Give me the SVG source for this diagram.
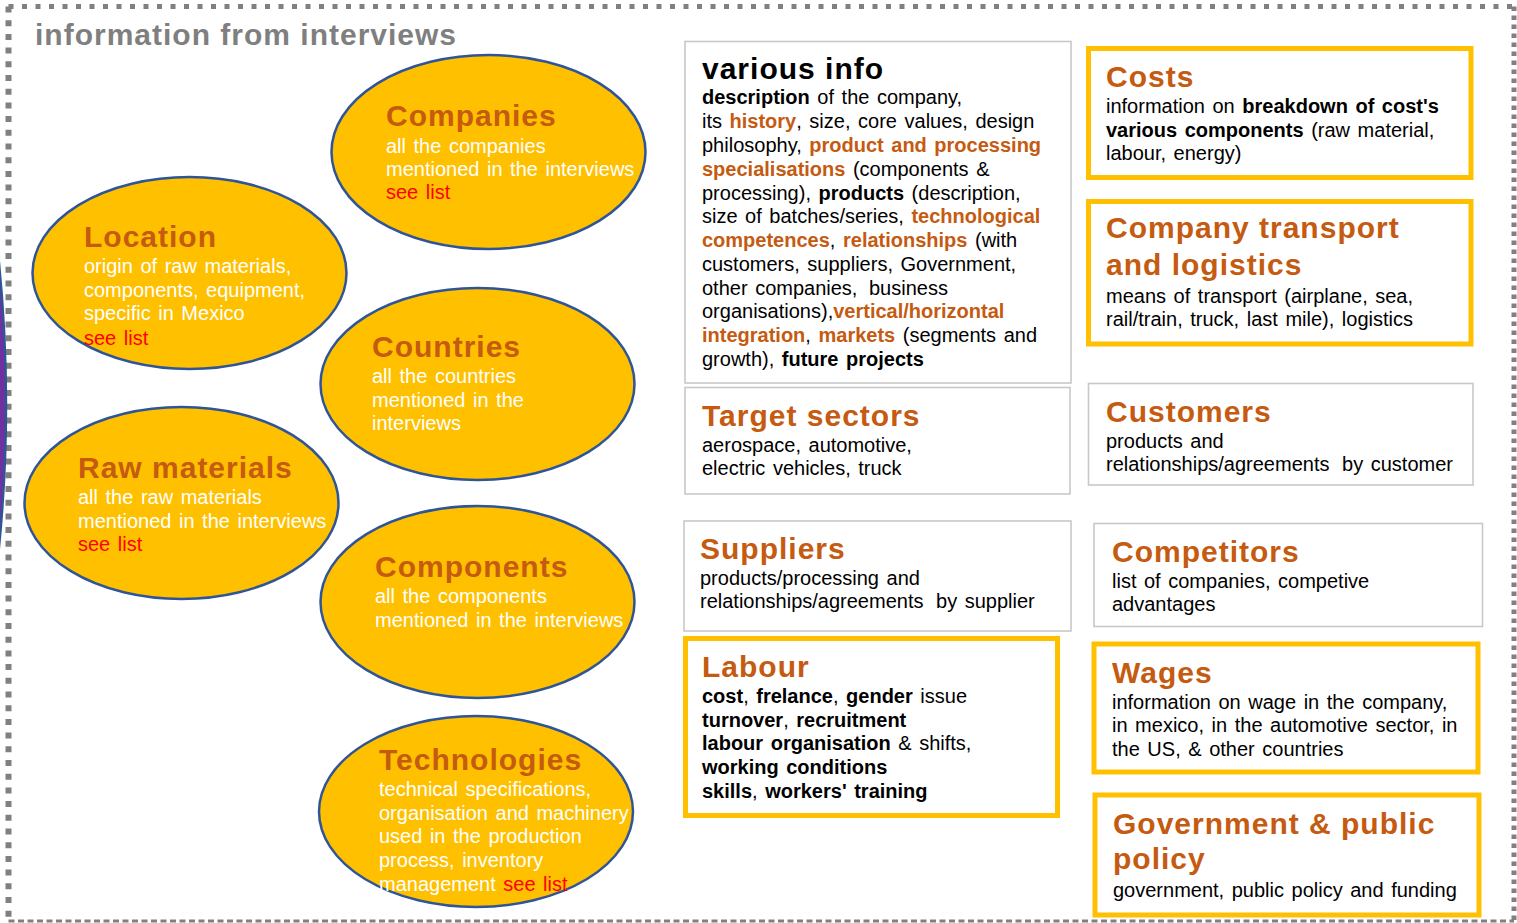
<svg xmlns="http://www.w3.org/2000/svg" width="1517" height="923" viewBox="0 0 1517 923">
  <style>
    .frame { fill: none; stroke: #808080; }
    .oval { fill: #FFC000; stroke: #2F5597; stroke-width: 2.5; }
    .box { fill: #FFFFFF; stroke: #C8C8C8; stroke-width: 1.6; }
    .gbox { fill: #FFFFFF; stroke: #FFC000; stroke-width: 5; }
    text { font-family: "Liberation Sans", Arial, sans-serif; }
    .ttl { font-size: 30px; font-weight: bold; fill: #C55A11; letter-spacing: 1px; }
    .head { font-size: 30px; font-weight: bold; fill: #000000; letter-spacing: 1px; }
    .wt { font-size: 20px; fill: #FFFFFF; word-spacing: 2px; }
    .bt { font-size: 20px; fill: #000000; word-spacing: 2px; }
    .b { font-weight: bold; }
    .o { font-weight: bold; fill: #C55A11; }
    .red { fill: #FF0000; }
  </style>

  <!-- dashed outer frame -->
  <g id="frame">
    <line class="frame" x1="8.5" y1="6.5" x2="1514" y2="6.5" stroke-width="5" stroke-dasharray="5 8.5"/>
    <line class="frame" x1="8.5" y1="6.5" x2="8.5" y2="921" stroke-width="6" stroke-dasharray="6 7.7"/>
    <line class="frame" x1="1514" y1="6.5" x2="1514" y2="921" stroke-width="5" stroke-dasharray="4.5 4.5"/>
    <line class="frame" x1="8.5" y1="921" x2="1514" y2="921" stroke-width="3" stroke-dasharray="6 3.5"/>
  </g>

  <text x="35" y="45" font-size="30" font-weight="bold" fill="#7F7F7F" letter-spacing="1">information from interviews</text>

  <!-- partly hidden shape at the left edge -->
  <path d="M -3 244 Q 15 405 -3 566 Z" fill="#7030A0" stroke="#2F5597" stroke-width="2.5"/>

  <g id="connectors"></g>

  <!-- topic ovals -->
  <g id="companies">
    <ellipse class="oval" cx="488.5" cy="152" rx="157" ry="97"/>
    <text class="ttl" x="386" y="126">Companies</text>
    <text class="wt" x="386" y="153">all the companies</text>
    <text class="wt" x="386" y="176">mentioned in the interviews</text>
    <text class="wt red" x="386" y="199">see list</text>
  </g>

  <g id="location">
    <ellipse class="oval" cx="189.5" cy="273" rx="157" ry="96"/>
    <text class="ttl" x="84" y="247">Location</text>
    <text class="wt" x="84" y="273">origin of raw materials,</text>
    <text class="wt" x="84" y="297">components, equipment,</text>
    <text class="wt" x="84" y="320">specific in Mexico</text>
    <text class="wt red" x="84" y="345">see list</text>
  </g>

  <g id="countries">
    <ellipse class="oval" cx="477.5" cy="384" rx="157" ry="96"/>
    <text class="ttl" x="372" y="357">Countries</text>
    <text class="wt" x="372" y="383">all the countries</text>
    <text class="wt" x="372" y="407">mentioned in the</text>
    <text class="wt" x="372" y="430">interviews</text>
  </g>

  <g id="raw-materials">
    <ellipse class="oval" cx="181.5" cy="503" rx="157" ry="96"/>
    <text class="ttl" x="78" y="478">Raw materials</text>
    <text class="wt" x="78" y="504">all the raw materials</text>
    <text class="wt" x="78" y="528">mentioned in the interviews</text>
    <text class="wt red" x="78" y="551">see list</text>
  </g>

  <g id="components">
    <ellipse class="oval" cx="477.5" cy="602" rx="157" ry="96"/>
    <text class="ttl" x="375" y="577">Components</text>
    <text class="wt" x="375" y="603">all the components</text>
    <text class="wt" x="375" y="627">mentioned in the interviews</text>
  </g>

  <g id="technologies">
    <ellipse class="oval" cx="476" cy="811.5" rx="157" ry="95.5"/>
    <text class="ttl" x="379" y="770">Technologies</text>
    <text class="wt" x="379" y="796">technical specifications,</text>
    <text class="wt" x="379" y="820">organisation and machinery</text>
    <text class="wt" x="379" y="843">used in the production</text>
    <text class="wt" x="379" y="867">process, inventory</text>
    <text class="wt" x="379" y="891">management <tspan class="red">see list</tspan></text>
  </g>

  <!-- information boxes, middle column -->
  <g id="various-info">
    <rect class="box" x="685" y="41.5" width="386" height="341.5"/>
    <text class="head" x="702" y="79">various info</text>
    <text class="bt" x="702" y="104"><tspan class="b">description</tspan> of the company,</text>
    <text class="bt" x="702" y="128">its <tspan class="o">history</tspan>, size, core values, design</text>
    <text class="bt" x="702" y="152">philosophy, <tspan class="o">product and processing</tspan></text>
    <text class="bt" x="702" y="176"><tspan class="o">specialisations</tspan> (components &amp;</text>
    <text class="bt" x="702" y="200">processing), <tspan class="b">products</tspan> (description,</text>
    <text class="bt" x="702" y="223">size of batches/series, <tspan class="o">technological</tspan></text>
    <text class="bt" x="702" y="247"><tspan class="o">competences</tspan>, <tspan class="o">relationships</tspan> (with</text>
    <text class="bt" x="702" y="271">customers, suppliers, Government,</text>
    <text class="bt" x="702" y="295">other companies, <tspan dx="4">business</tspan></text>
    <text class="bt" x="702" y="318">organisations),<tspan class="o">vertical/horizontal</tspan></text>
    <text class="bt" x="702" y="342"><tspan class="o">integration</tspan>, <tspan class="o">markets</tspan> (segments and</text>
    <text class="bt" x="702" y="366">growth), <tspan class="b">future projects</tspan></text>
  </g>

  <g id="target-sectors">
    <rect class="box" x="685" y="387.5" width="385" height="106.5"/>
    <text class="ttl" x="702" y="426">Target sectors</text>
    <text class="bt" x="702" y="452">aerospace, automotive,</text>
    <text class="bt" x="702" y="475">electric vehicles, truck</text>
  </g>

  <g id="suppliers">
    <rect class="box" x="684" y="521" width="387" height="110"/>
    <text class="ttl" x="700" y="559">Suppliers</text>
    <text class="bt" x="700" y="585">products/processing and</text>
    <text class="bt" x="700" y="608">relationships/agreements <tspan dx="5">by supplier</tspan></text>
  </g>

  <g id="labour">
    <rect class="gbox" x="685.5" y="638.5" width="372" height="177"/>
    <text class="ttl" x="702" y="677">Labour</text>
    <text class="bt" x="702" y="703"><tspan class="b">cost</tspan>, <tspan class="b">frelance</tspan>, <tspan class="b">gender</tspan> issue</text>
    <text class="bt" x="702" y="727"><tspan class="b">turnover</tspan>, <tspan class="b">recruitment</tspan></text>
    <text class="bt" x="702" y="750"><tspan class="b">labour organisation</tspan> &amp; shifts,</text>
    <text class="bt" x="702" y="774"><tspan class="b">working conditions</tspan></text>
    <text class="bt" x="702" y="798"><tspan class="b">skills</tspan>, <tspan class="b">workers' training</tspan></text>
  </g>

  <!-- information boxes, right column -->
  <g id="costs">
    <rect class="gbox" x="1088.5" y="48.5" width="382.5" height="129"/>
    <text class="ttl" x="1106" y="87">Costs</text>
    <text class="bt" x="1106" y="113">information on <tspan class="b">breakdown of cost's</tspan></text>
    <text class="bt" x="1106" y="137"><tspan class="b">various components</tspan> (raw material,</text>
    <text class="bt" x="1106" y="160">labour, energy)</text>
  </g>

  <g id="transport">
    <rect class="gbox" x="1088.5" y="201.5" width="382.5" height="142.5"/>
    <text class="ttl" x="1106" y="238">Company transport</text>
    <text class="ttl" x="1106" y="275">and logistics</text>
    <text class="bt" x="1106" y="303">means of transport (airplane, sea,</text>
    <text class="bt" x="1106" y="326">rail/train, truck, last mile), logistics</text>
  </g>

  <g id="customers">
    <rect class="box" x="1088.5" y="383.5" width="384.5" height="101.5"/>
    <text class="ttl" x="1106" y="422">Customers</text>
    <text class="bt" x="1106" y="448">products and</text>
    <text class="bt" x="1106" y="471">relationships/agreements <tspan dx="5">by customer</tspan></text>
  </g>

  <g id="competitors">
    <rect class="box" x="1094" y="523.5" width="388.5" height="103"/>
    <text class="ttl" x="1112" y="562">Competitors</text>
    <text class="bt" x="1112" y="588">list of companies, competive</text>
    <text class="bt" x="1112" y="611">advantages</text>
  </g>

  <g id="wages">
    <rect class="gbox" x="1094" y="644" width="384" height="128"/>
    <text class="ttl" x="1112" y="683">Wages</text>
    <text class="bt" x="1112" y="709">information on wage in the company,</text>
    <text class="bt" x="1112" y="732">in mexico, in the automotive sector, in</text>
    <text class="bt" x="1112" y="756">the US, &amp; other countries</text>
  </g>

  <g id="government">
    <rect class="gbox" x="1095" y="795" width="384" height="120"/>
    <text class="ttl" x="1113" y="834">Government &amp; public</text>
    <text class="ttl" x="1113" y="869">policy</text>
    <text class="bt" x="1113" y="897">government, public policy and funding</text>
  </g>
</svg>
